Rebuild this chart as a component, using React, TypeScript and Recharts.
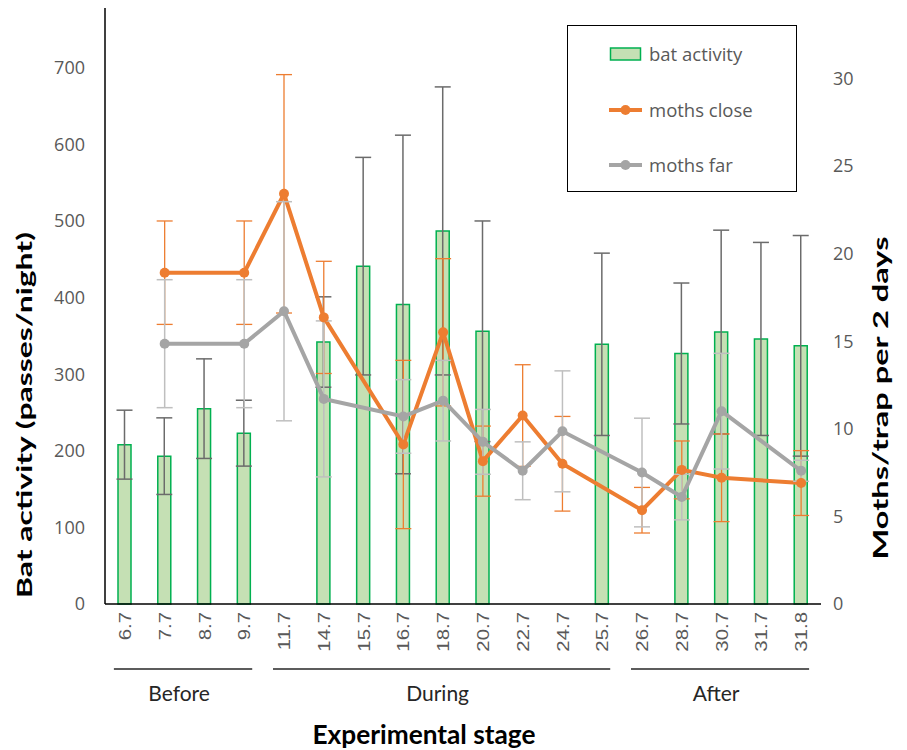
import React from 'react';
import { ComposedChart, Bar, Line, XAxis, YAxis, ErrorBar, Legend } from 'recharts';

const categories = ['6.7', '7.7', '8.7', '9.7', '11.7', '14.7', '15.7', '16.7', '18.7', '20.7', '22.7', '24.7', '25.7', '26.7', '28.7', '30.7', '31.7', '31.8'];
const batActivity = [208, 193, 255, 223, null, 342, 441, 391, 487, 356, null, null, 339, null, 327, 355, 346, 337];
const batError = [45, 50, 65, 43, null, 59, 142, 221, 188, 144, null, null, 119, null, 92, 133, 126, 144];
const mothsClose = [null, 18.9, null, 18.9, 23.4, 16.35, null, 9.1, 15.5, 8.15, 10.75, 8.0, null, 5.35, 7.65, 7.2, null, 6.9];
const mothsCloseError = [null, 2.95, null, 2.95, 6.8, 3.2, null, 4.8, 4.2, 2.0, 2.9, 2.7, null, 1.3, 1.65, 2.5, null, 1.85];
const mothsFar = [null, 14.85, null, 14.85, 16.7, 11.7, null, 10.7, 11.6, 9.25, 7.6, 9.85, null, 7.5, 6.1, 11.0, null, 7.6];
const mothsFarError = [null, 3.65, null, 3.65, 6.25, 4.45, null, 2.1, 2.3, 1.85, 1.65, 3.45, null, 3.1, 1.3, 3.3, null, 0.6];

const leftTicks = [0, 100, 200, 300, 400, 500, 600, 700];
const rightTicks = [0, 5, 10, 15, 20, 25, 30];

const groupNames = ['Before', 'During', 'After'];
const groupStart = ['6.7', '11.7', '26.7'];
const groupEnd = ['9.7', '25.7', '31.8'];

const data = categories.map((c, i) => ({
  label: c,
  bat: batActivity[i],
  batErr: batError[i] == null ? undefined : batError[i],
  close: mothsClose[i],
  closeErr: mothsCloseError[i] == null ? undefined : mothsCloseError[i],
  far: mothsFar[i],
  farErr: mothsFarError[i] == null ? undefined : mothsFarError[i],
}));

const W = 907;
const H = 750;
const PLOT_LEFT = 105;
const PLOT_RIGHT = 821;
const PLOT_TOP = 8;
const PLOT_BOTTOM = 604;

const ORANGE = '#ED7D31';
const GRAY = '#A5A5A5';
const GREEN_FILL = '#C5E0B4';
const GREEN_STROKE = '#00B050';
const TICK_COLOR = '#595959';

const LeftTick = (props: any) => {
  const { x, y, payload } = props;
  return (
    <text x={x - 20} y={y} dy="0.36em" textAnchor="end" fontFamily="Open Sans" fontSize={18} fill={TICK_COLOR}>
      {payload.value}
    </text>
  );
};

const RightTick = (props: any) => {
  const { x, y, payload } = props;
  return (
    <text x={x + 12} y={y} dy="0.36em" textAnchor="start" fontFamily="Open Sans" fontSize={18} fill={TICK_COLOR}>
      {payload.value}
    </text>
  );
};

const BottomTick = (props: any) => {
  const { x, y, payload } = props;
  return (
    <g transform={`translate(${x},${y + 8}) rotate(-90) scale(1.2,1)`}>
      <text x={0} y={0} dy="0.36em" textAnchor="end" fontFamily="Liberation Sans" fontSize={17} fill={TICK_COLOR}>
        {payload.value}
      </text>
    </g>
  );
};

const LegendContent = (props: any) => {
  const payload = props.payload || [];
  const rows = [28, 84, 139];
  return (
    <div
      style={{
        position: 'relative',
        width: 230,
        height: 167,
        border: '1.5px solid #000',
        boxSizing: 'border-box',
        background: '#fff',
      }}
    >
      {payload.map((p: any, i: number) => {
        const isBar = p.type === 'rect' || p.dataKey === 'bat';
        return (
          <div key={i} style={{ position: 'absolute', left: 0, top: rows[i] - 12, height: 24, width: '100%' }}>
            <svg width={40} height={24} style={{ position: 'absolute', left: 40, top: 0 }}>
              {isBar ? (
                <rect x={2.5} y={6} width={30} height={12} fill={GREEN_FILL} stroke={GREEN_STROKE} strokeWidth={1.5} />
              ) : (
                <g>
                  <line x1={1} y1={12} x2={34} y2={12} stroke={p.color} strokeWidth={4} />
                  <circle cx={17.5} cy={12} r={5} fill={p.color} />
                </g>
              )}
            </svg>
            <span
              style={{
                position: 'absolute',
                left: 81,
                top: 0,
                lineHeight: '24px',
                fontFamily: 'Open Sans',
                fontSize: 18.5,
                color: TICK_COLOR,
                whiteSpace: 'nowrap',
              }}
            >
              {p.value}
            </span>
          </div>
        );
      })}
    </div>
  );
};

const band = (PLOT_RIGHT - PLOT_LEFT) / categories.length;
const center = (label: string) => PLOT_LEFT + band * (categories.indexOf(label) + 0.5);

export default function App() {
  return (
    <div style={{ position: 'fixed', left: 0, top: 0, width: W, height: H, background: '#fff', overflow: 'hidden' }}>
      <ComposedChart width={W} height={H} data={data} margin={{ top: PLOT_TOP, right: 0, bottom: 0, left: 0 }}>
        <XAxis
          dataKey="label"
          xAxisId="x"
          height={H - PLOT_BOTTOM}
          tickLine={false}
          tickSize={0}
          tickMargin={0}
          axisLine={{ stroke: '#000', strokeWidth: 1.5 }}
          interval={0}
          tick={<BottomTick />}
        />
        <YAxis
          yAxisId="left"
          orientation="left"
          width={PLOT_LEFT}
          domain={[0, 778]}
          ticks={leftTicks}
          tickLine={false}
          tickSize={0}
          tickMargin={0}
          axisLine={{ stroke: '#000', strokeWidth: 1.5 }}
          tick={<LeftTick />}
          interval={0}
        />
        <YAxis
          yAxisId="right"
          orientation="right"
          width={W - PLOT_RIGHT}
          domain={[0, 34]}
          ticks={rightTicks}
          tickLine={false}
          tickSize={0}
          tickMargin={0}
          axisLine={false}
          tick={<RightTick />}
          interval={0}
        />
        <Legend
          layout="vertical"
          align="center"
          verticalAlign="middle"
          content={<LegendContent />}
          wrapperStyle={{ position: 'absolute', left: 567, top: 25, width: 230, height: 167, margin: 0 }}
        />
        <Bar
          xAxisId="x"
          yAxisId="left"
          dataKey="bat"
          name="bat activity"
          barSize={13}
          fill={GREEN_FILL}
          stroke={GREEN_STROKE}
          strokeWidth={1.5}
          isAnimationActive={false}
        >
          <ErrorBar dataKey="batErr" width={8} stroke="#6B6B6B" strokeWidth={1.5} />
        </Bar>
        <Line
          xAxisId="x"
          yAxisId="right"
          dataKey="close"
          name="moths close"
          stroke={ORANGE}
          strokeWidth={4}
          dot={{ r: 5, fill: ORANGE, stroke: ORANGE, strokeWidth: 0 }}
          activeDot={false}
          connectNulls
          isAnimationActive={false}
        >
          <ErrorBar dataKey="closeErr" width={8} stroke={ORANGE} strokeWidth={1.3} />
        </Line>
        <Line
          xAxisId="x"
          yAxisId="right"
          dataKey="far"
          name="moths far"
          stroke={GRAY}
          strokeWidth={4}
          dot={{ r: 5, fill: GRAY, stroke: GRAY, strokeWidth: 0 }}
          activeDot={false}
          connectNulls
          isAnimationActive={false}
        >
          <ErrorBar dataKey="farErr" width={8} stroke="#BFBFBF" strokeWidth={1.5} />
        </Line>
      </ComposedChart>
      <svg width={W} height={H} style={{ position: 'absolute', left: 0, top: 0, pointerEvents: 'none' }}>
        {groupNames.map((g, i) => {
          const x1 = center(groupStart[i]) - 11;
          const x2 = center(groupEnd[i]) + 8;
          return (
            <g key={g}>
              <line x1={x1} y1={669} x2={x2} y2={669} stroke="#262626" strokeWidth={1.5} />
              <text x={(x1 + x2) / 2 - 4} y={694} dy="0.35em" textAnchor="middle" fontFamily="Lato" fontSize={21} fill="#262626">
                {g}
              </text>
            </g>
          );
        })}
        <text
          x={424}
          y={735}
          dy="0.35em"
          textAnchor="middle"
          fontFamily="Lato"
          fontWeight="bold"
          fontSize={26}
          fill="#000"
          textLength={223}
          lengthAdjust="spacingAndGlyphs"
        >
          Experimental stage
        </text>
        <text
          transform="translate(25,415) rotate(-90)"
          textAnchor="middle"
          dy="0.35em"
          fontFamily="Lato"
          fontWeight="bold"
          fontSize={21}
          fill="#000"
          textLength={366}
          lengthAdjust="spacingAndGlyphs"
        >
          Bat activity (passes/night)
        </text>
        <text
          transform="translate(881,398) rotate(-90)"
          textAnchor="middle"
          dy="0.35em"
          fontFamily="Lato"
          fontWeight="bold"
          fontSize={20}
          fill="#000"
          textLength={323}
          lengthAdjust="spacingAndGlyphs"
        >
          Moths/trap per 2 days
        </text>
      </svg>
    </div>
  );
}
